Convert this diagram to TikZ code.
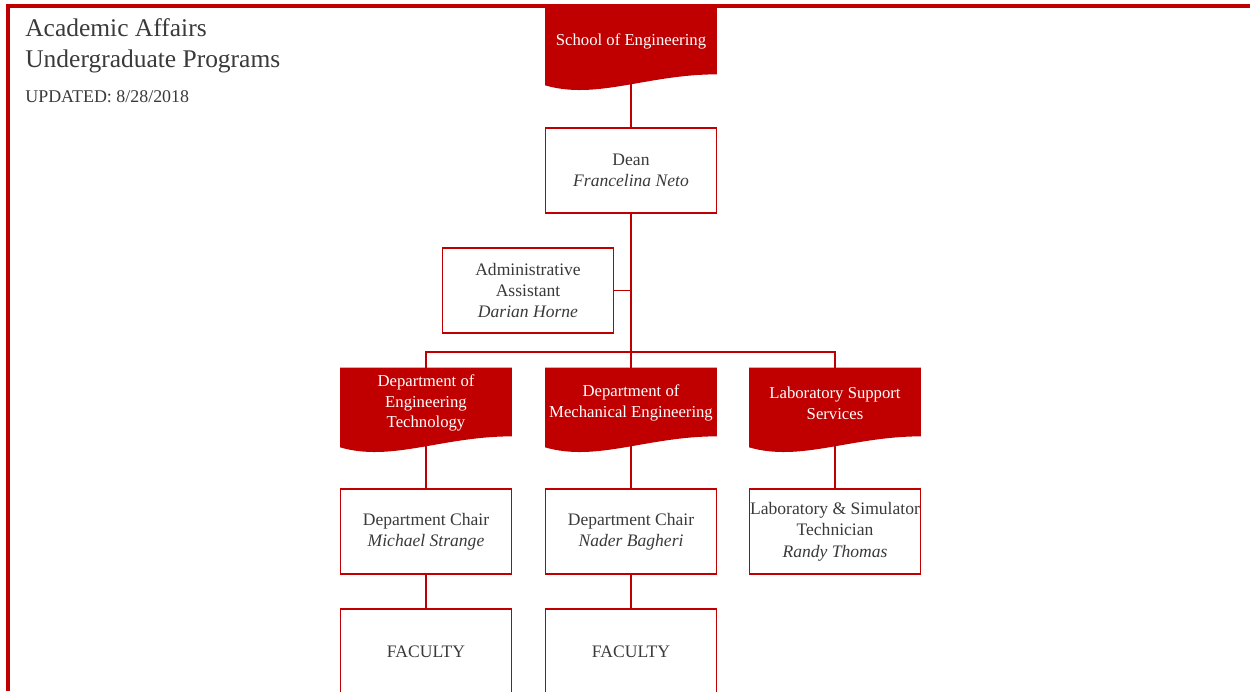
\documentclass[tikz,border=0pt]{standalone}
\usepackage{fontspec}
\setmainfont{Liberation Serif}
\usetikzlibrary{calc,backgrounds}

\definecolor{sfured}{HTML}{C00000}
\definecolor{inkgray}{HTML}{3A3A3A}

\tikzset{
    orgbox/.style={draw=sfured, line width=0.8pt, fill=white, text=inkgray,
        minimum width=3.42cm, minimum height=1.7cm, inner sep=0pt, align=center,
        font=\fontsize{10}{12.2}\selectfont},
    banner/.style={text=white, minimum width=3.42cm, minimum height=1.4cm,
        inner sep=0pt, align=center, font=\fontsize{9.5}{11.8}\selectfont},
    heading/.style={anchor=base west, inner sep=0pt, text=inkgray},
    link/.style={draw=sfured, line width=0.8pt}
}

% red banner with a wavy lower edge
\newcommand{\wavefill}[1]{%
    \fill[sfured] (#1.north west) -- (#1.north east) -- ($(#1.south east)+(0,-2)$)
        .. controls ($(#1.south west)+(102,-2)$) and ($(#1.south west)+(51,24)$) .. ($(#1.south west)+(0,9)$) -- cycle;}

\begin{document}
\begin{tikzpicture}[x=0.02cm, y=-0.02cm]
    \useasboundingbox (0,0) rectangle (1250,691);

    % Heading
    \node[heading, font=\fontsize{14.5}{17}\selectfont] (title) at (25,36) {Academic Affairs};
    \node[heading, font=\fontsize{14.5}{17}\selectfont] (subtitle) at (25,67) {Undergraduate Programs};
    \node[heading, font=\fontsize{10.2}{12}\selectfont] (updated) at (25,102) {UPDATED: 8/28/2018};

    % School and dean
    \node[banner] (school) at (631,41) {School of Engineering};
    \node[orgbox] (dean) at (631,170.5) {Dean\\\textit{Francelina Neto}};
    \node[orgbox] (admin) at (528,290.5) {Administrative\\Assistant\\\textit{Darian Horne}};
    \coordinate (bus) at (631,352);

    % Departments
    \node[banner] (deptet) at (426,403) {Department of\\Engineering\\Technology};
    \node[banner] (deptme) at (631,403) {Department of\\Mechanical Engineering};
    \node[banner] (labsvc) at (835,403) {Laboratory Support\\Services};

    % Chairs and staff
    \node[orgbox] (chairet) at (426,531.5) {Department Chair\\\textit{Michael Strange}};
    \node[orgbox] (chairme) at (631,531.5) {Department Chair\\\textit{Nader Bagheri}};
    \node[orgbox] (labtech) at (835,531.5) {Laboratory \& Simulator\\Technician\\\textit{Randy Thomas}};

    % Faculty
    \node[orgbox] (facet) at (426,651.5) {FACULTY};
    \node[orgbox] (facme) at (631,651.5) {FACULTY};

    \begin{scope}[on background layer]
        % Connectors
        \draw[link] (school.south) -- (dean.north);
        \draw[link] (dean.south) -- (bus) -- (deptme.north);
        \draw[link] (admin.east) -- (admin.east -| dean.south);
        \draw[link] (deptet.north) |- (bus) -| (labsvc.north);
        \foreach \top/\bot in {deptet/chairet, deptme/chairme, labsvc/labtech, chairet/facet, chairme/facme}
            \draw[link] (\top.south) -- (\bot.north);
        % Banner fills
        \foreach \b in {school, deptet, deptme, labsvc}
            \wavefill{\b};
    \end{scope}

    % Page frame
    \draw[sfured, line width=2pt] (8,691) -- (8,6) -- (1250,6);
\end{tikzpicture}
\end{document}
